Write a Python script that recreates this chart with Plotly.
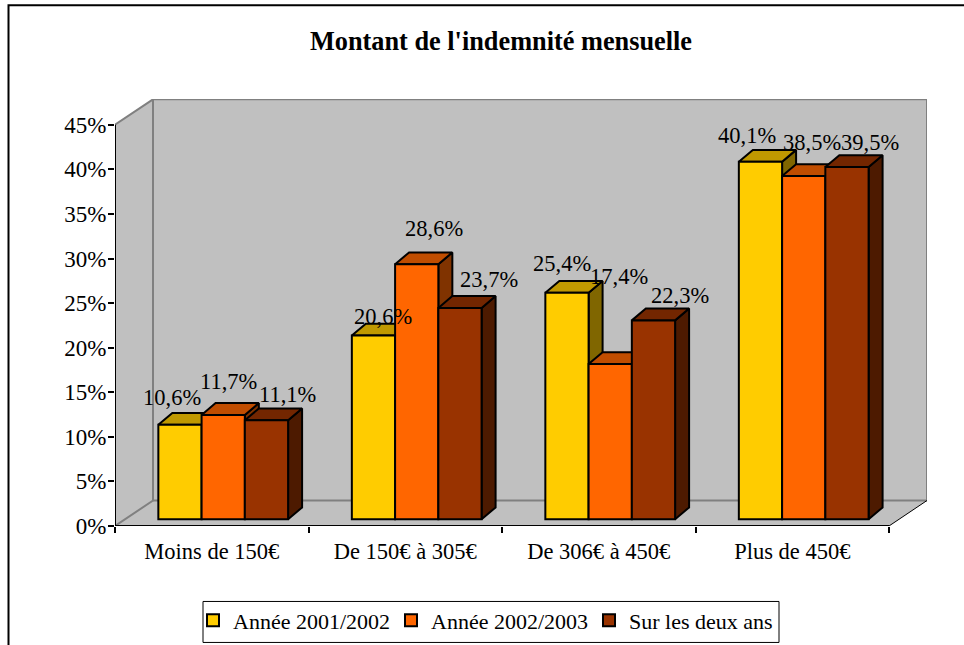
import plotly.graph_objects as go

categories = ["Moins de 150€", "De 150€ à 305€", "De 306€ à 450€", "Plus de 450€"]
series_names = ["Année 2001/2002", "Année 2002/2003", "Sur les deux ans"]
serie_2001 = [10.6, 20.6, 25.4, 40.1]
serie_2002 = [11.7, 28.6, 17.4, 38.5]
serie_deux = [11.1, 23.7, 22.3, 39.5]
y_ticks = [0, 5, 10, 15, 20, 25, 30, 35, 40, 45]
labels_2001 = ["10,6%", "20,6%", "25,4%", "40,1%"]
labels_2002 = ["11,7%", "28,6%", "17,4%", "38,5%"]
labels_deux = ["11,1%", "23,7%", "22,3%", "39,5%"]

# ---- styling / geometry (not data) ----
W, H = 964, 645
L, R, T, B = 115.0, 927.0, 99.3, 526.5
PX_X = 193.5
PX_Y = 8.92
FONT = "Liberation Serif"
front = ["#FFCC00", "#FF6600", "#993300"]
top_c = ["#C09900", "#C04D00", "#732600"]
side_c = ["#806600", "#803300", "#4D1A00"]
wall_dx = 38 / PX_X
wall_dy = 25.5 / PX_Y
bar_dx = 14 / PX_X
bar_dy = 11.8 / PX_Y
bar_w = 0.2235
start = 0.224
base = 6.8 / PX_Y
label_shift = [
    [(-8, 27), (10, 19), (-5, 29), (-13, 26)],
    [(5, 33), (17, 36), (9, 88), (8, 33)],
    [(21, 26), (29, 28), (27, 25), (23, 25)],
]
xmax = (R - L) / PX_X
ymax = (B - T) / PX_Y

all_series = [serie_2001, serie_2002, serie_deux]
all_labels = [labels_2001, labels_2002, labels_deux]
fig = go.Figure()

# side and top faces, on the lower axes pair
for s, vals in enumerate(all_series):
    tx, ty, sx, sy = [], [], [], []
    for g, v in enumerate(vals):
        x0 = g + start + s * bar_w
        x1 = x0 + bar_w
        yt = base + v
        tx += [x0, x1, x1 + bar_dx, x0 + bar_dx, x0, None]
        ty += [yt, yt, yt + bar_dy, yt + bar_dy, yt, None]
        sx += [x1, x1 + bar_dx, x1 + bar_dx, x1, x1, None]
        sy += [base, base + bar_dy, yt + bar_dy, yt, base, None]
    for xs, ys, c in ((sx, sy, side_c[s]), (tx, ty, top_c[s])):
        fig.add_trace(go.Scatter(x=xs, y=ys, mode="lines", fill="toself", fillcolor=c,
                                 line=dict(color="black", width=2), showlegend=False,
                                 hoverinfo="skip", xaxis="x", yaxis="y"))

# front faces, on the overlaying axes pair
for s, vals in enumerate(all_series):
    fig.add_trace(go.Bar(x=[g + start + (s + 0.5) * bar_w for g in range(len(vals))],
                         y=vals, base=[base] * len(vals), width=bar_w, name=series_names[s],
                         marker=dict(color=front[s], line=dict(color="black", width=2)),
                         xaxis="x2", yaxis="y2"))

# back wall, side wall, floor
grey = "#808080"
shapes = []
def poly(pts, fill, lw=0, lc=grey, layer="below"):
    path = "M " + " L ".join(f"{x},{y}" for x, y in pts)
    if fill:
        path += " Z"
    return dict(type="path", path=path, xref="x", yref="y", layer=layer,
                fillcolor=fill if fill else "rgba(0,0,0,0)",
                line=dict(color=lc, width=lw))
y45 = y_ticks[-1]
n = len(categories)
shapes.append(poly([(0, 0), (wall_dx, wall_dy), (wall_dx, y45 + wall_dy), (0, y45)], "#C0C0C0"))
shapes.append(poly([(wall_dx, wall_dy), (n + wall_dx, wall_dy), (n + wall_dx, y45 + wall_dy),
                    (wall_dx, y45 + wall_dy)], "#C0C0C0"))
shapes.append(poly([(0, 0), (n, 0), (n + wall_dx, wall_dy), (wall_dx, wall_dy)], "#C0C0C0"))
shapes.append(poly([(0, 0), (wall_dx, wall_dy), (wall_dx, y45 + wall_dy), (0, y45)], None, 2))
shapes.append(poly([(wall_dx, wall_dy), (n + wall_dx, wall_dy), (n + wall_dx, y45 + wall_dy),
                    (wall_dx, y45 + wall_dy), (wall_dx, wall_dy)], None, 2))
shapes.append(poly([(n, 0), (n + wall_dx, wall_dy)], None, 1, "black"))
shapes.append(poly([(0, 0), (0, y45)], None, 2, "black"))
shapes.append(poly([(0, 0), (n, 0)], None, 2, "black"))

# outer chart frame and legend box, in page pixels converted to paper units
def px(x): return (x - L) / (R - L)
def py(y): return (B - y) / (B - T)
shapes.append(dict(type="rect", xref="paper", yref="paper", x0=px(8.5), x1=px(975), y0=py(5.5), y1=py(660),
                   line=dict(color="black", width=2), layer="below"))
shapes.append(dict(type="rect", xref="paper", yref="paper", x0=px(203), x1=px(779), y0=py(602), y1=py(643),
                   line=dict(color="black", width=1), fillcolor="white", layer="below"))

annotations = []
for s, vals in enumerate(all_series):
    for g, v in enumerate(vals):
        dx, dy = label_shift[s][g]
        annotations.append(dict(x=g + start + (s + 0.5) * bar_w, y=base + v, xref="x", yref="y",
                                text=all_labels[s][g], showarrow=False, xanchor="center",
                                yanchor="middle", xshift=dx, yshift=dy,
                                font=dict(family=FONT, size=22.5, color="black")))

fig.update_layout(
    width=W, height=H, autosize=False,
    margin=dict(l=L, r=W - R, t=T, b=H - B, pad=0, autoexpand=False),
    paper_bgcolor="white", plot_bgcolor="rgba(0,0,0,0)",
    font=dict(family=FONT, size=22, color="black"),
    title=dict(text="<b>Montant de l'indemnité mensuelle</b>", x=501 / W, xanchor="center",
               y=1 - 41 / H, yanchor="middle", font=dict(family=FONT, size=26.3, color="black")),
    barmode="overlay",
    showlegend=True,
    legend=dict(orientation="h", x=px(193), y=py(600), xanchor="left", yanchor="top",
                bgcolor="rgba(0,0,0,0)", borderwidth=0, entrywidth=153, entrywidthmode="pixels",
                font=dict(family=FONT, size=22, color="black"), itemwidth=30),
    xaxis=dict(range=[0, xmax], tickvals=[i + 0.5 for i in range(n)], ticktext=categories,
               ticks="", showgrid=False, zeroline=False, showline=False, automargin=False,
               ticklabelstandoff=9,
               tickfont=dict(family=FONT, size=22.5, color="black")),
    yaxis=dict(range=[0, ymax], tickvals=y_ticks, ticktext=[f"{t}%" for t in y_ticks],
               ticks="outside", ticklen=6, tickcolor="black", tickwidth=1.5, showgrid=False,
               zeroline=False, showline=False, automargin=False, ticklabelstandoff=-3,
               tickfont=dict(family=FONT, size=23, color="black")),
    xaxis2=dict(range=[0, xmax], overlaying="x", side="bottom", anchor="y2",
                tickvals=list(range(n + 1)), ticktext=[""] * (n + 1), ticks="outside", ticklen=6,
                tickcolor="black", tickwidth=1.5, showgrid=False, zeroline=False, showline=False),
    yaxis2=dict(range=[0, ymax], overlaying="y", anchor="x2", showticklabels=False, ticks="",
                showgrid=False, zeroline=False, showline=False),
    shapes=shapes, annotations=annotations,
)
fig.write_html("out.html", config={"displayModeBar": False},
               post_script="document.body.style.margin='0';document.body.style.overflow='hidden';")
